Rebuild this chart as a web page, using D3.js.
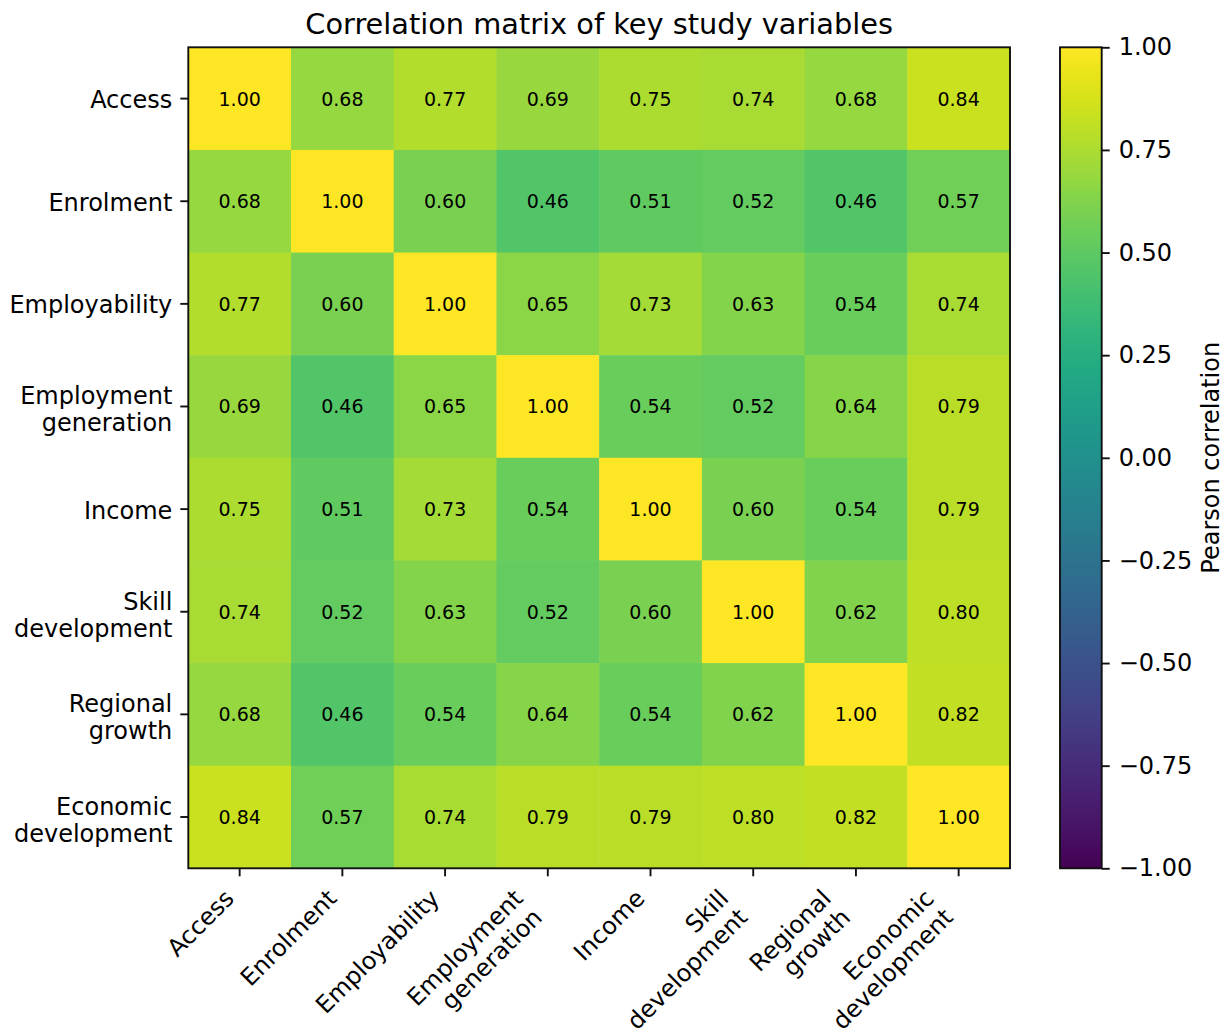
<!DOCTYPE html>
<html><head><meta charset="utf-8">
<script src="https://cdn.jsdelivr.net/npm/d3@7"></script>
<style>
body{margin:0;background:#fff;}
text{font-family:"DejaVu Sans",sans-serif;fill:#000;}
</style></head>
<body><svg id="c" width="1231" height="1032"></svg>
<script>
const variables = ["Access","Enrolment","Employability","Employment\ngeneration","Income","Skill\ndevelopment","Regional\ngrowth","Economic\ndevelopment"];
const rowAccess        = [1.00,0.68,0.77,0.69,0.75,0.74,0.68,0.84];
const rowEnrolment     = [0.68,1.00,0.60,0.46,0.51,0.52,0.46,0.57];
const rowEmployability = [0.77,0.60,1.00,0.65,0.73,0.63,0.54,0.74];
const rowEmploymentGen = [0.69,0.46,0.65,1.00,0.54,0.52,0.64,0.79];
const rowIncome        = [0.75,0.51,0.73,0.54,1.00,0.60,0.54,0.79];
const rowSkill         = [0.74,0.52,0.63,0.52,0.60,1.00,0.62,0.80];
const rowRegional      = [0.68,0.46,0.54,0.64,0.54,0.62,1.00,0.82];
const rowEconomic      = [0.84,0.57,0.74,0.79,0.79,0.80,0.82,1.00];
const matrix = [rowAccess,rowEnrolment,rowEmployability,rowEmploymentGen,rowIncome,rowSkill,rowRegional,rowEconomic];
const colorbarTicks = [-1.00,-0.75,-0.50,-0.25,0.00,0.25,0.50,0.75,1.00];
const titleText = "Correlation matrix of key study variables";
const colorbarLabel = "Pearson correlation";

const svg = d3.select("#c");
const L=188.3, R=1010, T=47.3, B=868.3;
const tickLen=8, pad=8, fs=24;
const x = d3.scaleBand().domain(d3.range(variables.length)).range([L,R]);
const y = d3.scaleBand().domain(d3.range(variables.length)).range([T,B]);
const color = v => d3.interpolateViridis((v+1)/2);

const cells=[];
matrix.forEach((row,i)=>row.forEach((v,j)=>cells.push({i,j,v})));
svg.append("g").selectAll("rect").data(cells).join("rect")
  .attr("x",d=>x(d.j)).attr("y",d=>y(d.i))
  .attr("width",x.bandwidth()+0.5).attr("height",y.bandwidth()+0.5)
  .attr("fill",d=>color(d.v));
svg.append("g").selectAll("text").data(cells).join("text")
  .attr("x",d=>x(d.j)+x.bandwidth()/2).attr("y",d=>y(d.i)+y.bandwidth()/2)
  .attr("text-anchor","middle").attr("dominant-baseline","central")
  .style("font-size","19px").text(d=>d.v.toFixed(2));
svg.append("rect").attr("x",L).attr("y",T).attr("width",R-L).attr("height",B-T)
  .attr("fill","none").attr("stroke","#111").attr("stroke-width",1.9);

// x ticks
const xg = svg.append("g");
variables.forEach((name,k)=>{
  const cx = x(k)+x.bandwidth()/2;
  xg.append("line").attr("x1",cx).attr("x2",cx).attr("y1",B).attr("y2",B+tickLen)
    .attr("stroke","#111").attr("stroke-width",1.9);
  const g = xg.append("g");
  const t = g.append("text").attr("text-anchor","end").style("font-size",fs+"px")
    .attr("transform","rotate(-45)");
  name.split("\n").forEach((ln,li)=>t.append("tspan").attr("x",0).attr("dy",li?27:0).text(ln));
  const bb = g.node().getBoundingClientRect();
  const svgbb = svg.node().getBoundingClientRect();
  const right = bb.right - svgbb.left, top = bb.top - svgbb.top;
  g.attr("transform",`translate(${cx-right},${B+tickLen+pad-top})`);
});

// y ticks
const yg = svg.append("g");
variables.forEach((name,k)=>{
  const cy = y(k)+y.bandwidth()/2;
  yg.append("line").attr("x1",L-tickLen).attr("x2",L).attr("y1",cy).attr("y2",cy)
    .attr("stroke","#111").attr("stroke-width",1.9);
  const lines = name.split("\n");
  const n = lines.length;
  const shift = n>1 ? 3.5 : 1.5;
  const t = yg.append("text").attr("text-anchor","end").style("font-size",fs+"px");
  lines.forEach((ln,li)=>t.append("tspan").attr("x",L-tickLen-pad)
    .attr("y",cy+shift+(li-(n-1)/2)*27).attr("dominant-baseline","central").text(ln));
});

// title
svg.append("text").attr("x",(L+R)/2).attr("y",33.5).attr("text-anchor","middle")
  .style("font-size","28.8px").text(titleText);

// colorbar
const CL=1060, CR=1101.7;
const cy = d3.scaleLinear().domain([-1,1]).range([B,T]);
const defs = svg.append("defs");
const grad = defs.append("linearGradient").attr("id","vir").attr("x1",0).attr("x2",0).attr("y1",1).attr("y2",0);
d3.range(0,1.0001,0.02).forEach(s=>grad.append("stop").attr("offset",s).attr("stop-color",d3.interpolateViridis(s)));
svg.append("rect").attr("x",CL).attr("y",T).attr("width",CR-CL).attr("height",B-T)
  .attr("fill","url(#vir)").attr("stroke","#111").attr("stroke-width",1.9);
const axis = d3.axisRight(cy).tickValues(colorbarTicks).tickSize(tickLen).tickPadding(pad+1)
  .tickFormat(d=>d3.format(".2f")(d).replace("-","\u2212"));
const ag = svg.append("g").attr("transform",`translate(${CR},0)`).call(axis);
ag.select(".domain").remove();
ag.selectAll("line").attr("stroke","#111").attr("stroke-width",1.9);
ag.selectAll("text").style("font-size",fs+"px").style("font-family","DejaVu Sans").attr("fill","#000");
svg.append("text").attr("transform",`translate(1211,${(T+B)/2}) rotate(-90)`)
  .attr("text-anchor","middle").attr("dominant-baseline","central")
  .style("font-size",fs+"px").text(colorbarLabel);
</script></body></html>
